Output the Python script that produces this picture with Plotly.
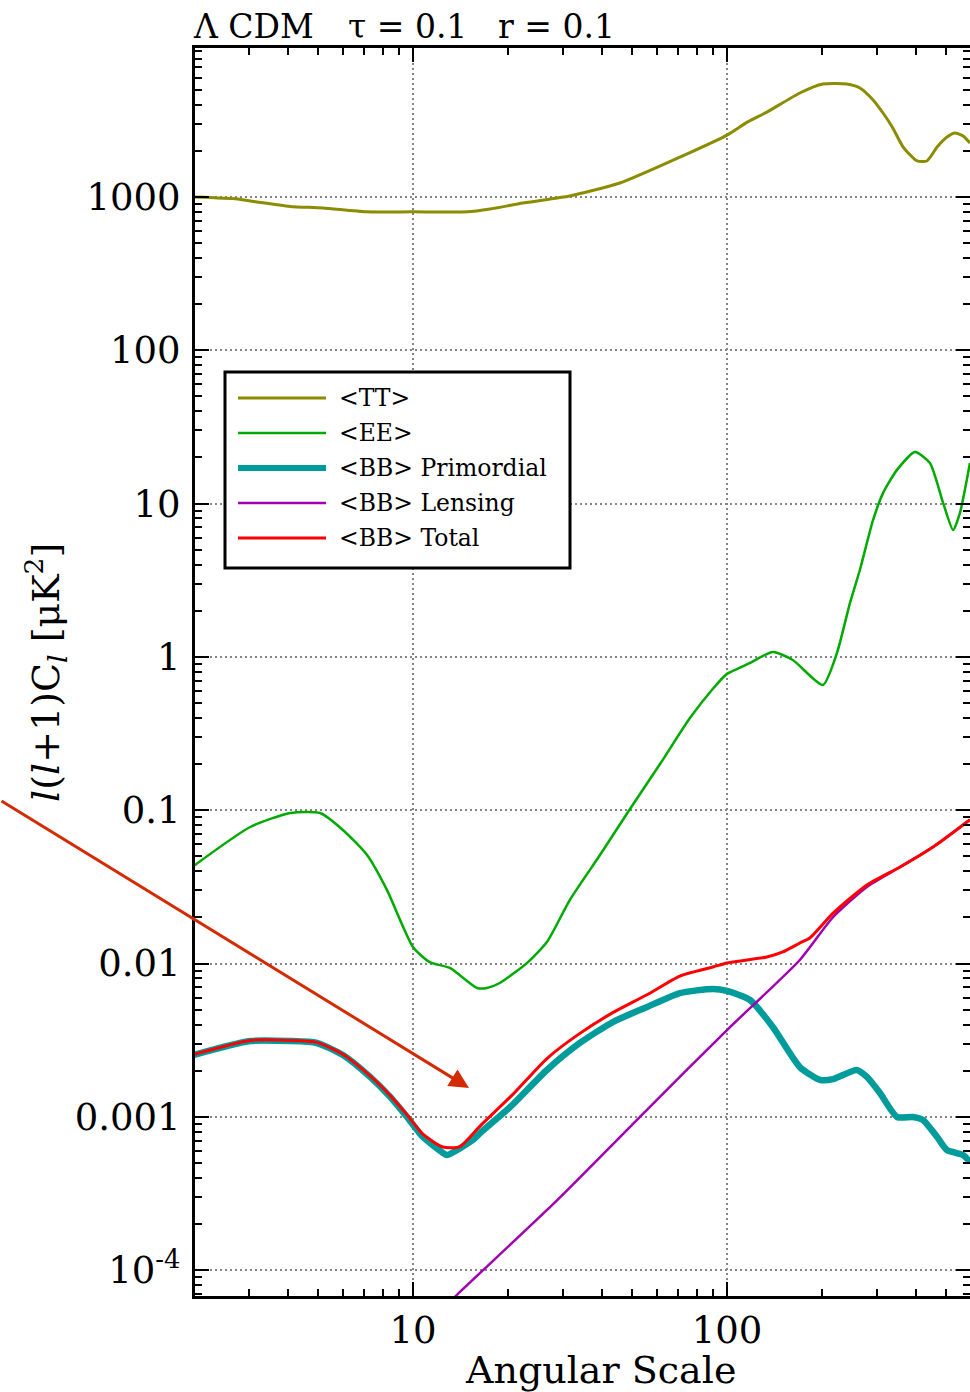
import plotly.graph_objects as go

# ---------------- data ----------------
tt_l = [2, 2.76, 3.18, 4.06, 5.16, 7.1, 10, 14.9, 17.6, 22.4, 28.8, 31.6, 45.6, 70.8, 100,
        116, 134, 170.6, 202, 241, 265, 292, 314, 336, 364, 403, 433, 467, 502, 532, 565, 594]
tt_v = [1000, 970, 928, 868, 848, 800, 800, 800, 835, 914, 985, 1015, 1234, 1820, 2535,
        3080, 3580, 4770, 5460, 5460, 5140, 4295, 3532, 2865, 2118, 1718, 1718, 2118, 2460,
        2612, 2500, 2249]

ee_l = [2, 3.03, 4.06, 5.06, 5.98, 7.14, 8.26, 10, 11.3, 13.1, 16.0, 17.2, 18.9, 23.1, 26.7,
        31.6, 39.4, 49.1, 61.2, 76.2, 90.2, 100, 110, 118, 140, 162, 202, 224, 246.5, 265,
        292, 314, 348, 397, 443, 488, 525, 552, 594]
ee_v = [0.0432, 0.0777, 0.0959, 0.0959, 0.0743, 0.0510, 0.0302, 0.0128, 0.0102, 0.00935,
        0.00692, 0.00692, 0.00746, 0.0101, 0.0138, 0.0260, 0.0510, 0.1018, 0.200, 0.399,
        0.62, 0.775, 0.85, 0.91, 1.076, 0.955, 0.656, 1.06, 2.25, 3.69, 7.82, 11.7, 16.6,
        21.7, 18.4, 10.1, 6.73, 8.69, 18.4]

bbp_l = [2, 3.03, 4.06, 4.94, 5.98, 7.3, 8.45, 9.57, 10.76, 12.46, 12.83, 15.52, 16.35, 20.4,
         26.7, 34.0, 43.3, 55.6, 70.8, 90.2, 100, 118.4, 140, 170.6, 197.8, 217.8, 259, 279,
         307, 348, 391, 421, 467, 502, 565, 594]
bbp_v = [0.00253, 0.00312, 0.00312, 0.00303, 0.00253, 0.00182, 0.00135, 0.000997, 0.000738,
         0.000581, 0.000563, 0.000706, 0.000783, 0.00116, 0.00202, 0.00303, 0.00415, 0.00520,
         0.00641, 0.00682, 0.00662, 0.00578, 0.00385, 0.00211, 0.00174, 0.00176, 0.00202,
         0.00182, 0.00143, 0.000997, 0.000997, 0.000953, 0.000738, 0.000607, 0.000563, 0.000507]

bbl_l = [13, 13.8, 28.8, 55.6, 100, 170.6, 217.8, 279, 356, 453, 581, 594]
bbl_v = [6.1e-5, 6.9e-5, 0.000286, 0.00111, 0.00368, 0.01054, 0.0201, 0.0316, 0.0426,
         0.0575, 0.0838, 0.0868]

bbt_l = [2, 3.03, 4.06, 4.94, 5.98, 7.3, 8.45, 9.57, 10.76, 12.46, 14.1, 16.35, 20.8, 26.7,
         34.0, 43.3, 55.6, 70.8, 90.2, 100, 134, 150.6, 170.6, 183.6, 217.8, 279, 356, 453,
         581, 594]
bbt_v = [0.00255, 0.00315, 0.00315, 0.00306, 0.00256, 0.00185, 0.00138, 0.00103, 0.00077,
         0.000635, 0.000640, 0.00087, 0.00140, 0.0024, 0.00350, 0.00478, 0.00625, 0.00828,
         0.00948, 0.01008, 0.01102, 0.01189, 0.01361, 0.01466, 0.0213, 0.0325, 0.0426,
         0.0575, 0.0838, 0.0868]

series_names = ["&lt;TT&gt;", "&lt;EE&gt;", "&lt;BB&gt; Primordial", "&lt;BB&gt; Lensing", "&lt;BB&gt; Total"]
series_colors = ["#8c8c00", "#00aa00", "#009b9b", "#a000b0", "#ff0000"]
series_widths = [3, 2.5, 6.5, 2.5, 3]

y_tickvals = [1e-4, 1e-3, 1e-2, 1e-1, 1, 10, 100, 1000]
y_ticktext = ["10<sup>-4</sup>", "0.001", "0.01", "0.1", "1", "10", "100", "1000"]
x_tickvals = [10, 100]
x_ticktext = ["10", "100"]

# ---------------- layout geometry (page pixels) ----------------
FW, FH = 970, 1392
L, R, T, B = 195, 970, 48, 1296
FONT = "DejaVu Serif"


def px(xp):
    return (xp - L) / (R - L)


def py(yp):
    return (B - yp) / (B - T)


x_minor = [m * d for d in (1, 10, 100) for m in range(2, 10)]
y_minor = [m * 10.0 ** e for e in range(-5, 4) for m in range(2, 10)]

fig = go.Figure()
data = [(tt_l, tt_v), (ee_l, ee_v), (bbp_l, bbp_v), (bbl_l, bbl_v), (bbt_l, bbt_v)]
for (lx, vy), name, col, w in zip(data, series_names, series_colors, series_widths):
    fig.add_trace(go.Scatter(x=lx, y=vy, mode="lines", name=name,
                             line=dict(color=col, width=w, shape="spline", smoothing=0.6),
                             showlegend=False))
# dummy trace for the mirrored tick axes
fig.add_trace(go.Scatter(x=[None], y=[None], xaxis="x2", yaxis="y2", showlegend=False))

grid = dict(showgrid=True, gridcolor="#858585", gridwidth=2, griddash="2px,3px")
common_tick = dict(ticks="inside", tickwidth=2, tickcolor="black", ticklen=14)
minor_x = dict(ticks="inside", ticklen=7, tickwidth=2, tickcolor="black",
               tickmode="array", tickvals=x_minor, showgrid=False)
minor_y = dict(ticks="inside", ticklen=7, tickwidth=2, tickcolor="black",
               tickmode="array", tickvals=y_minor, showgrid=False)

fig.update_layout(
    width=FW, height=FH,
    margin=dict(l=L, r=FW - R, t=T, b=FH - B, pad=0),
    paper_bgcolor="white", plot_bgcolor="white",
    font=dict(family=FONT, color="black", size=37),
    showlegend=False,
    xaxis=dict(type="log", range=[0.3057, 2.774], autorange=False,
               tickmode="array", tickvals=x_tickvals, ticktext=x_ticktext,
               showline=True, linewidth=3, linecolor="black", zeroline=False,
               tickfont=dict(size=37, family=FONT), ticklabelstandoff=0,
               minor=minor_x, **grid, **common_tick),
    yaxis=dict(type="log", range=[-4.169, 3.972], autorange=False,
               tickmode="array", tickvals=y_tickvals, ticktext=y_ticktext,
               showline=True, linewidth=3, linecolor="black", zeroline=False,
               tickfont=dict(size=37, family=FONT), ticklabelstandoff=4,
               minor=minor_y, **grid, **common_tick),
    xaxis2=dict(type="log", range=[0.3057, 2.774], autorange=False, overlaying="x",
                side="top", anchor="y", tickmode="array", tickvals=x_tickvals,
                showticklabels=False, showgrid=False, zeroline=False,
                showline=True, linewidth=3, linecolor="black",
                minor=minor_x, **common_tick),
    yaxis2=dict(type="log", range=[-4.169, 3.972], autorange=False, overlaying="y",
                side="right", anchor="x", tickmode="array", tickvals=y_tickvals,
                showticklabels=False, showgrid=False, zeroline=False, showline=False,
                minor=minor_y, **common_tick),
)

shapes = []
annotations = []

# legend box drawn by hand so that the line samples match the reference length
shapes.append(dict(type="rect", xref="paper", yref="paper", layer="above",
                   x0=px(225), x1=px(570), y0=py(568), y1=py(372),
                   line=dict(color="black", width=3), fillcolor="white"))
rows = [398, 433, 468, 503, 538]
for yy, name, col, w in zip(rows, series_names, series_colors, series_widths):
    shapes.append(dict(type="line", xref="paper", yref="paper", layer="above",
                       x0=px(238), x1=px(326), y0=py(yy), y1=py(yy),
                       line=dict(color=col, width=min(w, 6))))
    annotations.append(dict(xref="paper", yref="paper", x=px(337), y=py(yy),
                            xanchor="left", yanchor="middle", showarrow=False,
                            text=name, font=dict(size=23.5, family=FONT, color="black")))

# title pieces
for xs, txt in [(191, "Λ CDM"), (346, "τ = 0.1"), (496, "r = 0.1")]:
    annotations.append(dict(xref="paper", yref="paper", x=px(xs), y=py(26),
                            xanchor="left", yanchor="middle", showarrow=False,
                            text=txt, font=dict(size=33, family=FONT, color="black")))

# axis titles
annotations.append(dict(xref="paper", yref="paper", x=px(600), y=py(1370),
                        xanchor="center", yanchor="middle", showarrow=False,
                        text="Angular Scale", font=dict(size=38, family=FONT, color="black")))
annotations.append(dict(xref="paper", yref="paper", x=px(45), y=py(673),
                        xanchor="center", yanchor="middle", showarrow=False, textangle=-90,
                        text="<i>l</i>(<i>l</i>+1)C<sub><i>l</i></sub> [μK<sup>2</sup>]",
                        font=dict(size=38, family=FONT, color="black")))

# arrow
annotations.append(dict(xref="paper", yref="paper", x=px(469), y=py(1088),
                        ax=-469, ay=-288, axref="pixel", ayref="pixel",
                        text="", showarrow=True, arrowhead=2, arrowsize=1.3,
                        arrowwidth=3, arrowcolor="#d42a00"))

fig.update_layout(shapes=shapes, annotations=annotations)
fig.write_html("out.html",
               config={"displayModeBar": False},
               post_script="document.body.style.margin='0';"
                           "document.body.style.overflow='hidden';")
